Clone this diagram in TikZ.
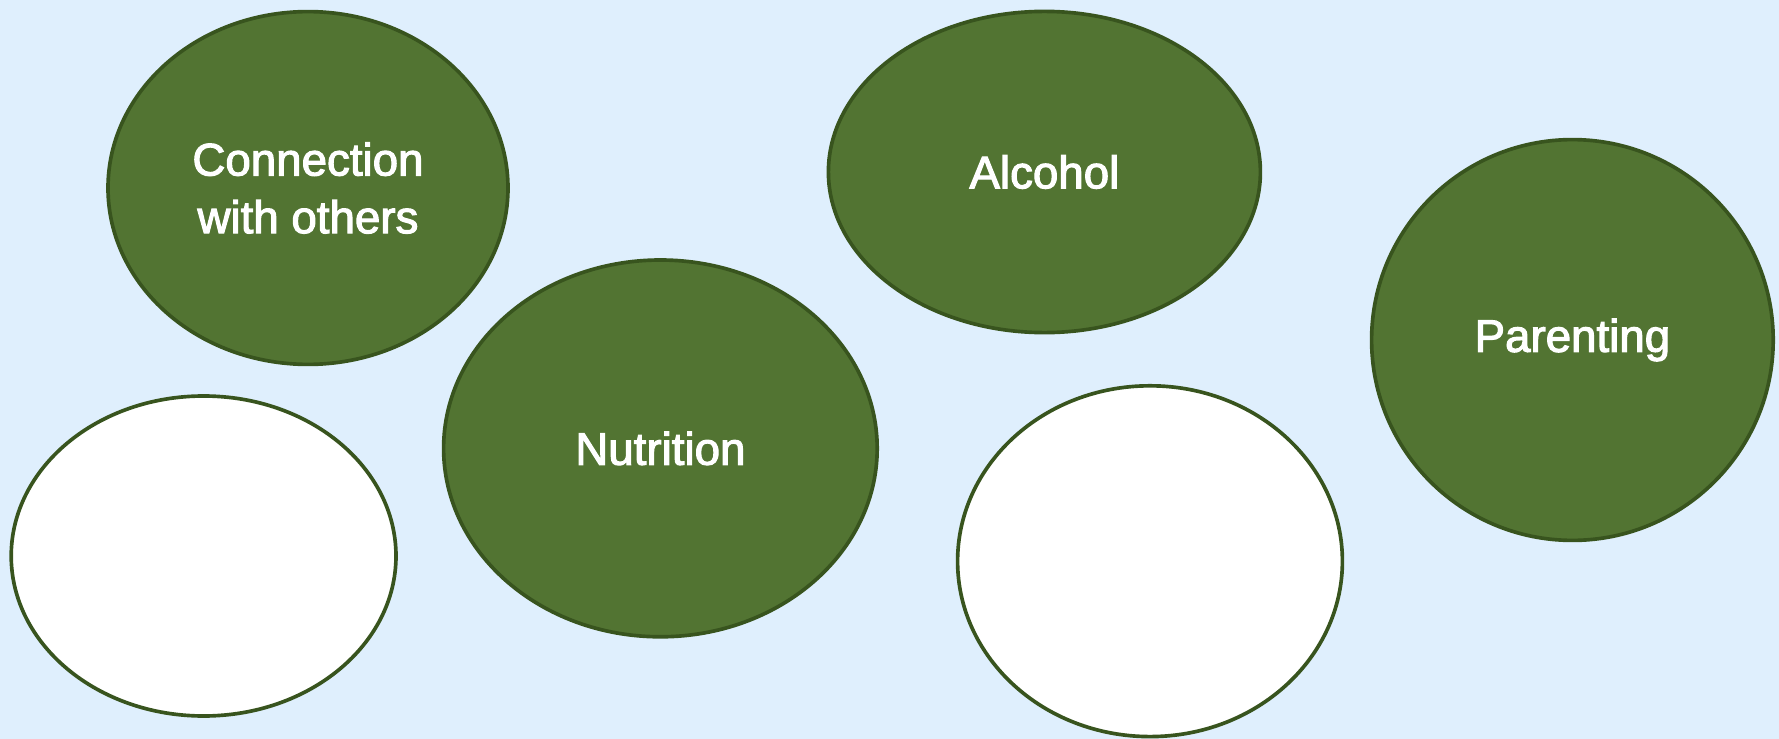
\documentclass[tikz,border=0pt]{standalone}
\usepackage{fontspec}
\setmainfont{Liberation Sans}
\newfontfamily\labelfont{Liberation Sans}[FakeBold=2.4]
\usetikzlibrary{shapes.geometric}
\definecolor{skyback}{RGB}{223,239,253}
\definecolor{leafgreen}{RGB}{82,116,50}
\definecolor{leafedge}{RGB}{56,84,30}
\tikzset{bubble/.style={draw=leafedge, ellipse, line width=2.6pt, fill=leafgreen, text=white, align=center, inner sep=0pt, font=\labelfont\fontsize{32.5}{41}\selectfont}}
\tikzset{blank/.style={draw=leafedge, ellipse, line width=2.6pt, fill=white, inner sep=0pt}}

\begin{document}
\begin{tikzpicture}
    \fill [skyback] (0,0) rectangle (44.475,-18.475);
    \useasboundingbox (0,0) rectangle (44.475,-18.475);

    \node [bubble, minimum width=10.0cm, minimum height=8.82cm] (connection) at (7.70,-4.70) {Connection\\with others};
    \node [bubble, minimum width=10.8cm, minimum height=8.03cm] (alcohol) at (26.11,-4.30) {Alcohol};
    \node [bubble, minimum width=10.04cm, minimum height=10.02cm] (parenting) at (39.31,-8.50) {Parenting};
    \node [bubble, minimum width=10.84cm, minimum height=9.42cm] (nutrition) at (16.51,-11.21) {Nutrition};

    \node [blank, minimum width=9.62cm, minimum height=8.0cm] (leftgap) at (5.09,-13.90) {};
    \node [blank, minimum width=9.62cm, minimum height=8.77cm] (midgap) at (28.75,-14.03) {};
\end{tikzpicture}
\end{document}
